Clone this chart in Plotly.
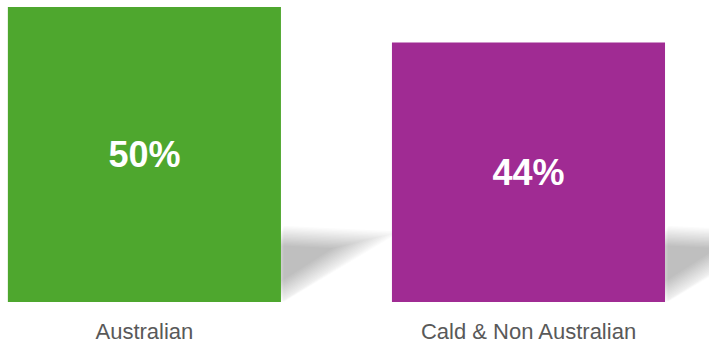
import plotly.graph_objects as go

categories = ["Australian", "Cald & Non Australian"]
values = [50, 44]
labels = ["50%", "44%"]
colors = ["#4EA72E", "#A02B93"]

BAR_WIDTH = 0.711

fig = go.Figure()
fig.add_trace(go.Bar(
    x=categories, y=values, width=BAR_WIDTH,
    marker=dict(color=colors, line=dict(width=0)),
    text=labels, textposition="inside", insidetextanchor="middle",
    textangle=0,
    textfont=dict(family="Liberation Sans, Arial, sans-serif", size=36, color="white", weight="bold"),
    hoverinfo="skip",
))

# soft shadow behind each bar (decoration), built from the bar positions
shapes = []
base_tri = [(0.0, 0.0), (0.0, 12.2), (0.272, 11.3)]
anchor = (-0.06, 6.0)
n_layers = 16
for i, _ in enumerate(categories):
    xr = i + BAR_WIDTH / 2
    for k in range(n_layers):
        s = 1.12 - k * 0.035
        pts = []
        for (dx, dy) in base_tri:
            px = anchor[0] + (dx - anchor[0]) * s
            py = anchor[1] + (dy - anchor[1]) * s
            pts.append((xr + px, max(py, 0)))
        path = "M " + " L ".join(f"{p[0]:.4f},{p[1]:.4f}" for p in pts) + " Z"
        shapes.append(dict(type="path", path=path, xref="x", yref="y",
                           fillcolor="rgba(0,0,0,0.017)", line=dict(width=0),
                           layer="below"))

fig.update_layout(
    width=709, height=347,
    margin=dict(l=0, r=0, t=0, b=45),
    plot_bgcolor="white", paper_bgcolor="white",
    showlegend=False,
    shapes=shapes,
    xaxis=dict(range=[-0.376, 1.470], showgrid=False, zeroline=False, showline=False,
               ticks="", tickfont=dict(family="Liberation Sans, Arial, sans-serif", size=22, color="#595959"),
               ticklabelstandoff=14),
    yaxis=dict(range=[0, 51.2], visible=False, showgrid=False, zeroline=False),
)

fig.write_html("out.html", config={"displayModeBar": False},
               post_script="document.body.style.margin='0';")
